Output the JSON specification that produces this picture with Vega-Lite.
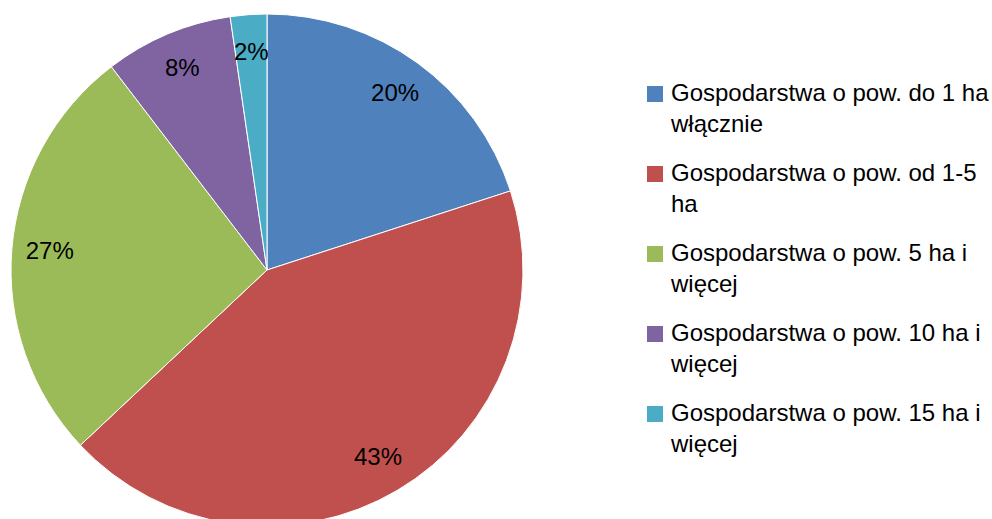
{
  "$schema": "https://vega.github.io/schema/vega-lite/v6.json",
  "width": 534,
  "height": 540,
  "padding": 0,
  "autosize": {"type": "pad"},
  "background": "white",
  "view": {"stroke": null},
  "config": {"style": {"guide-label": {"lineHeight": 31}}},
  "data": {
    "values": [
      {"category": "Gospodarstwa o pow. do 1 ha włącznie", "share": 0.200, "order": 1},
      {"category": "Gospodarstwa o pow. od 1-5 ha", "share": 0.430, "order": 2},
      {"category": "Gospodarstwa o pow. 5 ha i więcej", "share": 0.266, "order": 3},
      {"category": "Gospodarstwa o pow. 10 ha i więcej", "share": 0.081, "order": 4},
      {"category": "Gospodarstwa o pow. 15 ha i więcej", "share": 0.023, "order": 5}
    ]
  },
  "encoding": {
    "theta": {"field": "share", "type": "quantitative", "stack": true},
    "order": {"field": "order", "type": "quantitative"}
  },
  "layer": [
    {
      "mark": {"type": "arc", "outerRadius": 256, "stroke": "white", "strokeWidth": 1},
      "encoding": {
        "color": {
          "field": "category",
          "type": "nominal",
          "sort": null,
          "scale": {
            "domain": [
              "Gospodarstwa o pow. do 1 ha włącznie",
              "Gospodarstwa o pow. od 1-5 ha",
              "Gospodarstwa o pow. 5 ha i więcej",
              "Gospodarstwa o pow. 10 ha i więcej",
              "Gospodarstwa o pow. 15 ha i więcej"
            ],
            "range": ["#4F81BD", "#C0504D", "#9BBB59", "#8064A2", "#4BACC6"]
          },
          "legend": {
            "orient": "none",
            "legendX": 643,
            "legendY": 82,
            "title": null,
            "symbolType": "square",
            "symbolSize": 256,
            "symbolStrokeWidth": 0,
            "labelFont": "Liberation Sans",
            "labelFontSize": 24,
            "labelColor": "black",
            "labelLimit": 400,
            "labelOffset": 4,
            "rowPadding": 25,
            "labelExpr": "[substring(datum.label, 0, lastindexof(datum.label, ' ')), substring(datum.label, lastindexof(datum.label, ' ') + 1)]"
          }
        }
      }
    },
    {
      "mark": {"type": "text", "radius": 218, "fontSize": 24, "font": "Liberation Sans", "color": "black"},
      "encoding": {
        "text": {"field": "share", "type": "quantitative", "format": ".0%"}
      }
    }
  ]
}
